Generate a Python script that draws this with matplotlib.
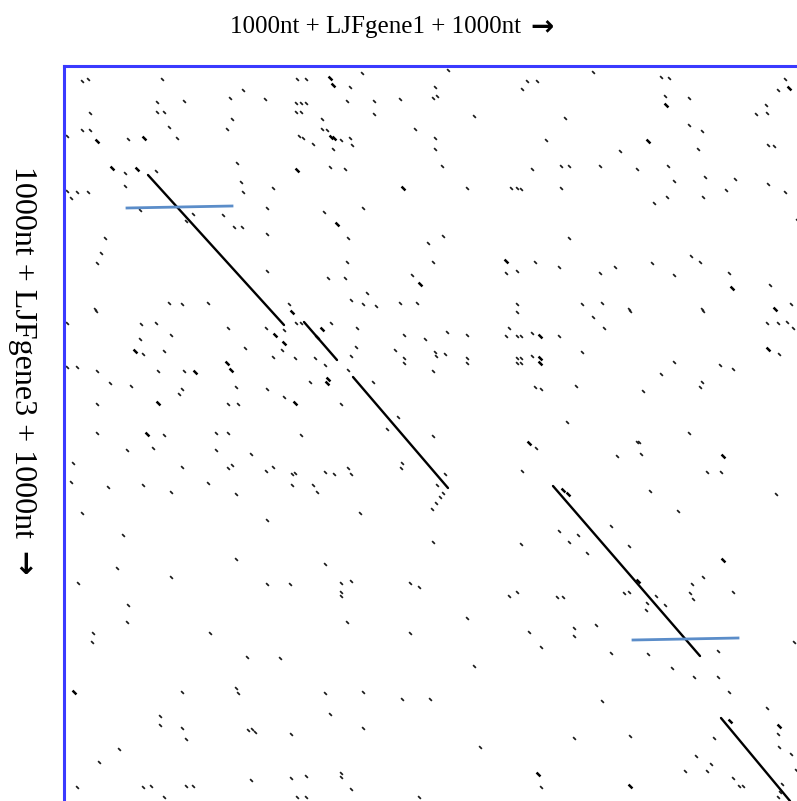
import matplotlib
matplotlib.use("Agg")
import matplotlib.pyplot as plt
import numpy as np
from matplotlib.path import Path

# dotplot of LJFgene1 (x) against LJFgene3 (y), both with 1000nt flanks
# positions are in window steps of STEP nt
STEP = 5
x_len = 733
y_len = 735

titre_x = "1000nt + LJFgene1 + 1000nt"
titre_y = "1000nt + LJFgene3 + 1000nt"
fleche = "\u2192"

# isolated word hits
hits_x = [18, 24, 98, 93, 120, 26, 93, 100, 105, 113, 18, 26, 3, 64, 179, 166, 201, 168, 163, 233, 242, 286, 298, 232, 237, 242, 232, 237, 283, 310, 310, 336, 258, 258, 263, 235, 239, 277, 286, 288, 249, 269, 351, 173, 61, 92, 61, 3, 13, 24, 7, 177, 179, 209, 266, 281, 76, 129, 122, 159, 170, 178, 203, 203, 260, 299, 284, 364, 41, 37, 33, 203, 283, 264, 281, 348, 303, 105, 118, 144, 31, 225, 287, 299, 312, 336, 353,
          384, 529, 371, 369, 373, 463, 473, 458, 597, 605, 721, 714, 601, 625, 702, 692, 703, 410, 501, 625, 638, 371, 371, 482, 556, 634, 704, 710, 378, 468, 497, 505, 536, 573, 604, 610, 641, 671, 403, 447, 453, 457, 497, 603, 639, 662, 704, 721, 590, 733, 379, 505, 369, 442, 453, 471, 495, 536, 551, 588, 610, 627, 636, 665, 706, 453, 518, 538, 565, 638, 727,
          32, 3, 77, 92, 107, 76, 79, 100, 3, 13, 33, 94, 120, 46, 67, 118, 115, 33, 164, 202, 181, 209, 218, 220, 232, 237, 267, 231, 251, 261, 246, 293, 292, 287, 309, 340, 361, 331, 340, 340, 172, 203, 220, 164, 174, 277, 334, 323, 33, 100, 63, 89, 152, 164, 152, 187, 237, 9, 118, 164, 168, 202, 209, 228, 231, 261, 270, 284, 287, 337, 338, 7, 44, 79, 107, 144, 172, 228, 249, 253, 18, 203, 296, 59, 284,
          453, 529, 566, 639, 703, 714, 723, 729, 715, 383, 403, 445, 442, 453, 457, 468, 495, 540, 371, 372, 381, 369, 403, 403, 453, 457, 453, 457, 468, 518, 610, 597, 656, 669, 638, 636, 579, 471, 477, 512, 503, 625, 472, 573, 575, 553, 577, 643, 657, 458, 586, 712, 614, 547, 565, 495, 505, 514, 523, 457, 369, 368, 372, 379, 376, 373, 381, 369,
          172, 261, 53, 14, 107, 203, 226, 277, 287, 277, 277, 346, 355, 64, 63, 29, 28, 146, 283, 346, 183, 216, 118, 172, 174, 261, 299, 338, 366, 96, 96, 118, 122, 184, 188, 191, 227, 266, 299, 55, 35, 13, 79, 87, 122, 129, 100, 187, 227, 242, 277, 277, 287, 233, 242, 355,
          639, 628, 669, 626, 629, 592, 601, 583, 582, 560, 565, 445, 453, 493, 499, 403, 465, 510, 510, 532, 477, 547, 584, 654, 730, 410, 608, 630, 654, 665, 538, 703, 714, 715, 727, 650, 510, 566, 416, 632, 647, 621, 643, 477, 669, 675, 679, 718, 716, 714, 732]
hits_y = [15, 13, 13, 36, 35, 47, 46, 46, 61, 72, 64, 64, 70, 73, 24, 32, 33, 53, 63, 13, 13, 21, 7, 37, 37, 37, 46, 46, 35, 35, 48, 33, 53, 63, 64, 70, 72, 74, 72, 79, 78, 83, 63, 97, 107, 105, 120, 125, 126, 126, 132, 116, 126, 122, 101, 103, 144, 148, 155, 149, 161, 161, 142, 168, 146, 142, 172, 177, 172, 187, 197, 205, 196, 212, 212, 209, 227, 237, 238, 237, 243, 238, 234, 238, 240, 237, 237,
          4, 6, 21, 32, 30, 15, 15, 23, 11, 12, 13, 24, 30, 32, 39, 48, 47, 50, 52, 59, 65, 72, 83, 74, 85, 83, 79, 80, 100, 103, 100, 100, 100, 103, 100, 115, 111, 113, 122, 122, 122, 123, 122, 131, 131, 124, 118, 126, 137, 154, 170, 172, 196, 207, 205, 196, 201, 207, 201, 197, 209, 190, 196, 207, 219, 238, 238, 237, 243, 243, 238,
          245, 257, 258, 257, 269, 273, 288, 285, 301, 301, 305, 305, 305, 317, 320, 323, 328, 338, 262, 262, 282, 291, 284, 264, 257, 257, 257, 292, 292, 299, 316, 262, 281, 290, 316, 269, 273, 284, 292, 297, 321, 323, 331, 338, 338, 338, 351, 363, 367, 369, 384, 382, 367, 367, 384, 388, 369, 397, 401, 402, 399, 405, 401, 408, 407, 406, 408, 402, 408, 402, 397, 416, 421, 419, 426, 417, 428, 419, 419, 426, 447, 454, 447, 469, 304,
          246, 251, 245, 245, 257, 257, 256, 262, 288, 266, 269, 262, 270, 270, 270, 267, 270, 262, 286, 290, 288, 305, 292, 297, 292, 292, 297, 297, 290, 286, 296, 308, 299, 303, 316, 321, 325, 321, 323, 320, 356, 367, 382, 376, 376, 390, 388, 406, 406, 405, 425, 428, 445, 460, 480, 465, 476, 469, 487, 478, 476, 443, 437, 427, 431, 419, 408, 370,
          493, 498, 502, 517, 511, 518, 518, 517, 515, 526, 530, 517, 521, 539, 556, 567, 576, 567, 556, 567, 591, 592, 626, 622, 627, 627, 626, 633, 633, 650, 659, 662, 673, 664, 663, 666, 668, 648, 662, 683, 696, 721, 721, 720, 720, 720, 731, 714, 712, 710, 707, 711, 723, 731, 731, 731,
          511, 518, 526, 527, 533, 530, 539, 537, 544, 527, 526, 530, 526, 531, 531, 552, 566, 562, 570, 559, 581, 587, 588, 585, 576, 600, 602, 611, 611, 626, 635, 642, 668, 681, 688, 672, 672, 670, 681, 690, 698, 705, 705, 721, 712, 720, 720, 718, 726, 731, 704]

# heavier hits (several overlapping words)
fort_x = [33, 80, 266, 269, 267, 270, 48, 73, 233, 339, 273, 356, 725, 602, 584, 442, 668, 711,
          71, 131, 94, 163, 167, 220, 211, 228, 258, 264, 263, 231, 83, 704, 476, 476, 476, 465, 659,
          499, 504, 10, 659, 666, 715, 474, 566, 574, 253]
fort_y = [75, 72, 12, 19, 71, 72, 102, 103, 104, 122, 158, 218, 22, 39, 75, 195, 222, 243,
          285, 306, 337, 297, 304, 277, 269, 246, 263, 313, 317, 337, 368, 283, 270, 292, 297, 377, 390,
          424, 428, 626, 494, 655, 660, 708, 720, 515, 271]

# diagonal runs of matching windows (start -> end)
diag_x0 = [84, 240, 289, 489, 657]
diag_y0 = [109, 256, 311, 420, 652]
diag_x1 = [220, 273, 384, 636, 726]
diag_y1 = [259, 294, 422, 590, 735]

# gene boundary marks
borne_x0 = [63, 569]
borne_x1 = [168, 674]
borne_y0 = [142, 574]
borne_y1 = [140, 572]

# petit trait diagonal pour chaque hit
trait = Path([(-1, 1), (1, -1)], [Path.MOVETO, Path.LINETO])

fig = plt.figure(figsize=(7.97, 8.01), dpi=100)
ax = fig.add_axes([64 / 797, 0, 1 - 64 / 797, (801 - 66) / 801])

hx = np.array(hits_x) * STEP
hy = np.array(hits_y) * STEP
ax.plot(hx, hy, linestyle="none", marker=trait, markersize=2.0,
        markeredgewidth=1.25, color="#1a1a1a")
fx = np.array(fort_x) * STEP
fy = np.array(fort_y) * STEP
ax.plot(fx, fy, linestyle="none", marker=trait, markersize=2.8,
        markeredgewidth=1.8, color="black")

for i in range(len(diag_x0)):
    ax.plot([diag_x0[i] * STEP, diag_x1[i] * STEP],
            [diag_y0[i] * STEP, diag_y1[i] * STEP],
            color="black", linewidth=1.7, solid_capstyle="round")

for i in range(len(borne_x0)):
    ax.plot([borne_x0[i] * STEP, borne_x1[i] * STEP],
            [borne_y0[i] * STEP, borne_y1[i] * STEP],
            color="#5b8dc9", linewidth=2.0)

ax.set_xlim(0, x_len * STEP)
ax.set_ylim(y_len * STEP, 0)
ax.set_xticks([])
ax.set_yticks([])
for cote in ["right", "bottom"]:
    ax.spines[cote].set_visible(False)
for cote in ["left", "top"]:
    ax.spines[cote].set_color("#3a3aff")
    ax.spines[cote].set_linewidth(2.2)

police = ["Liberation Serif", "DejaVu Serif"]
tx = fig.text(375 / 797, 1 - 27 / 801, titre_x, ha="center", va="center",
              fontsize=18, family=police)
ty = fig.text(22 / 797, 1 - 352 / 801, titre_y, ha="center", va="center",
              rotation=-90, fontsize=23, family=police)

# arrows placed right after each label
fig.canvas.draw()
r = fig.canvas.get_renderer()
bx = tx.get_window_extent(r)
by = ty.get_window_extent(r)
W, H = fig.bbox.width, fig.bbox.height
fig.text((bx.x1 + 10) / W, (bx.y0 + bx.y1) / 2 / H - 0.001, fleche,
         ha="left", va="center", fontsize=20, fontweight="bold",
         family="DejaVu Sans")
fig.text((by.x0 + by.x1) / 2 / W, (by.y0 - 13) / H, fleche,
         ha="center", va="top", rotation=-90, fontsize=21,
         fontweight="bold", family="DejaVu Sans")

fig.savefig("out.png", dpi=100)
